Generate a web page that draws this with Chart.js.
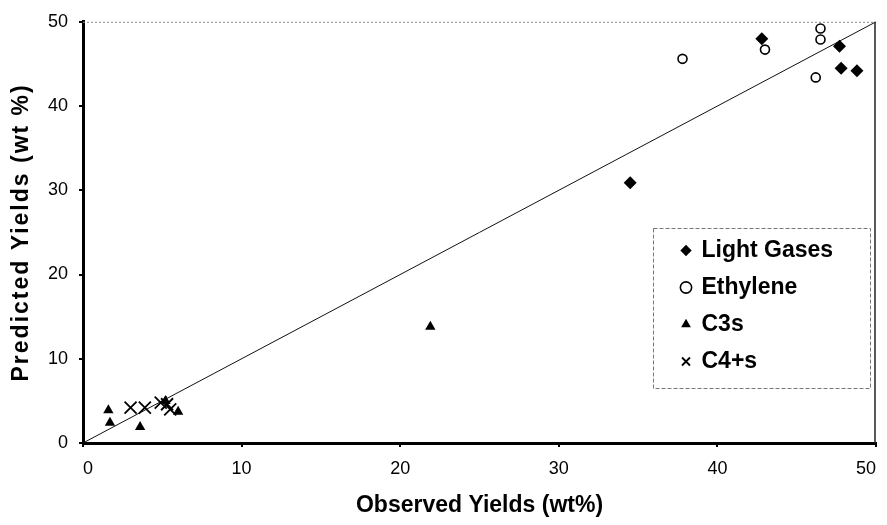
<!DOCTYPE html>
<html>
<head>
<meta charset="utf-8">
<script src="https://cdn.jsdelivr.net/npm/chart.js@4.4.1/dist/chart.umd.min.js"></script>
<style>
  html, body { margin: 0; padding: 0; background: #fff; }
  #wrap { width: 887px; height: 525px; }
</style>
</head>
<body>
<div id="wrap"><canvas id="yieldChart" width="887" height="525"></canvas></div>
<script>
// Observed vs predicted yields (wt%)
const lightGasesObs = [34.5, 42.8, 47.7, 47.8, 48.8];
const lightGasesPred = [30.9, 48.0, 47.1, 44.5, 44.2];
const ethyleneObs = [37.8, 43.0, 46.5, 46.5, 46.2];
const ethylenePred = [45.6, 46.7, 49.2, 47.9, 43.4];
const c3sObs = [1.6, 1.7, 3.6, 5.2, 6.0, 21.9];
const c3sPred = [3.9, 2.4, 1.9, 5.0, 3.7, 13.8];
const c4sObs = [3.0, 3.9, 4.9, 5.3, 5.5];
const c4sPred = [4.2, 4.2, 4.8, 4.6, 4.0];
// parity line
const parityX = [0, 50];
const parityY = [0, 50];
const axisTicks = [0, 10, 20, 30, 40, 50];

const FONT = "'Liberation Sans', Arial, Helvetica, sans-serif";

function toPoints(xs, ys) {
    return xs.map((x, i) => ({ x: x, y: ys[i] }));
}

// spread out the letters of the y axis title a little
function spacedTitle(scale) {
    if (scale._spaced) return;
    const orig = scale.drawTitle;
    scale.drawTitle = function () {
        this.ctx.save();
        this.ctx.letterSpacing = '2px';
        orig.call(this);
        this.ctx.restore();
    };
    scale._spaced = true;
}

// puts the legend inside the plot and frames it
const legendBox = {
    id: 'legendBox',
    afterLayout(chart) {
        spacedTitle(chart.scales.y);
        const lg = chart.legend;
        if (!lg) return;
        const w = lg.width, h = lg.height;
        lg.left = 668;
        lg.top = 225;
        lg.right = lg.left + w;
        lg.bottom = lg.top + h;
    },
    afterDraw(chart) {
        const ctx = chart.ctx;
        const area = chart.chartArea;
        ctx.save();
        // top and right frame
        ctx.strokeStyle = '#888';
        ctx.lineWidth = 1;
        ctx.setLineDash([2, 2]);
        ctx.beginPath();
        ctx.moveTo(area.left, area.top + 0.5);
        ctx.lineTo(area.right, area.top + 0.5);
        ctx.stroke();
        ctx.setLineDash([]);
        ctx.strokeStyle = '#222';
        ctx.lineWidth = 1.5;
        ctx.beginPath();
        ctx.moveTo(area.right - 1, area.top);
        ctx.lineTo(area.right - 1, area.bottom);
        ctx.stroke();
        // legend frame
        ctx.strokeStyle = '#777';
        ctx.lineWidth = 1;
        ctx.setLineDash([4, 2]);
        ctx.strokeRect(653.5, 228.5, 217, 160);
        ctx.restore();
    }
};

const ctx = document.getElementById('yieldChart').getContext('2d');
new Chart(ctx, {
    type: 'scatter',
    data: {
        datasets: [
            {
                label: 'Light Gases',
                data: toPoints(lightGasesObs, lightGasesPred),
                pointStyle: 'rectRot',
                pointRadius: 6.5,
                backgroundColor: '#000',
                borderColor: '#000',
                borderWidth: 0
            },
            {
                label: 'Ethylene',
                data: toPoints(ethyleneObs, ethylenePred),
                pointStyle: 'circle',
                pointRadius: 4.5,
                backgroundColor: '#fff',
                borderColor: '#000',
                borderWidth: 1.6
            },
            {
                label: 'C3s',
                data: toPoints(c3sObs, c3sPred),
                pointStyle: 'triangle',
                pointRadius: 6,
                backgroundColor: '#000',
                borderColor: '#000',
                borderWidth: 0
            },
            {
                label: 'C4+s',
                data: toPoints(c4sObs, c4sPred),
                pointStyle: 'crossRot',
                pointRadius: 8.5,
                backgroundColor: '#000',
                borderColor: '#000',
                borderWidth: 1.8
            },
            {
                label: 'parity',
                type: 'line',
                data: toPoints(parityX, parityY),
                borderColor: '#111',
                borderWidth: 1,
                pointRadius: 0,
                fill: false
            }
        ]
    },
    options: {
        responsive: false,
        animation: false,
        layout: { padding: { top: 14, right: 2, left: 0, bottom: 0 } },
        scales: {
            x: {
                type: 'linear',
                min: 0,
                max: 50,
                afterFit: (s) => { s.height = 82; },
                afterBuildTicks: (s) => { s.ticks = axisTicks.map(v => ({ value: v })); },
                border: { display: true, color: '#000', width: 3 },
                grid: { display: true, drawOnChartArea: false, tickLength: 4, lineWidth: 2, color: '#000' },
                ticks: {
                    align: 'inner',
                    padding: 11,
                    color: '#000',
                    font: { family: FONT, size: 18 }
                },
                title: {
                    display: true,
                    text: 'Observed Yields (wt%)',
                    color: '#000',
                    padding: { top: 0, bottom: 6 },
                    font: { family: FONT, size: 23, weight: 'bold' }
                }
            },
            y: {
                type: 'linear',
                min: 0,
                max: 50,
                afterFit: (s) => { s.width = 83; },
                afterBuildTicks: (s) => { s.ticks = axisTicks.map(v => ({ value: v })); },
                border: { display: true, color: '#000', width: 3 },
                grid: { display: true, drawOnChartArea: false, tickLength: 4, lineWidth: 2, color: '#000' },
                ticks: {
                    padding: 11,
                    color: '#000',
                    font: { family: FONT, size: 18 }
                },
                title: {
                    display: true,
                    text: 'Predicted Yields (wt %)',
                    color: '#000',
                    padding: { top: 8, bottom: 0 },
                    font: { family: FONT, size: 23, weight: 'bold' }
                }
            }
        },
        plugins: {
            legend: {
                position: 'chartArea',
                align: 'start',
                labels: {
                    usePointStyle: true,
                    boxWidth: 8,
                    boxHeight: 8,
                    padding: 14,
                    color: '#000',
                    font: { family: FONT, size: 23, weight: 'bold' },
                    filter: (item) => item.text !== 'parity'
                }
            },
            tooltip: { enabled: false }
        }
    },
    plugins: [legendBox]
});
</script>
</body>
</html>
